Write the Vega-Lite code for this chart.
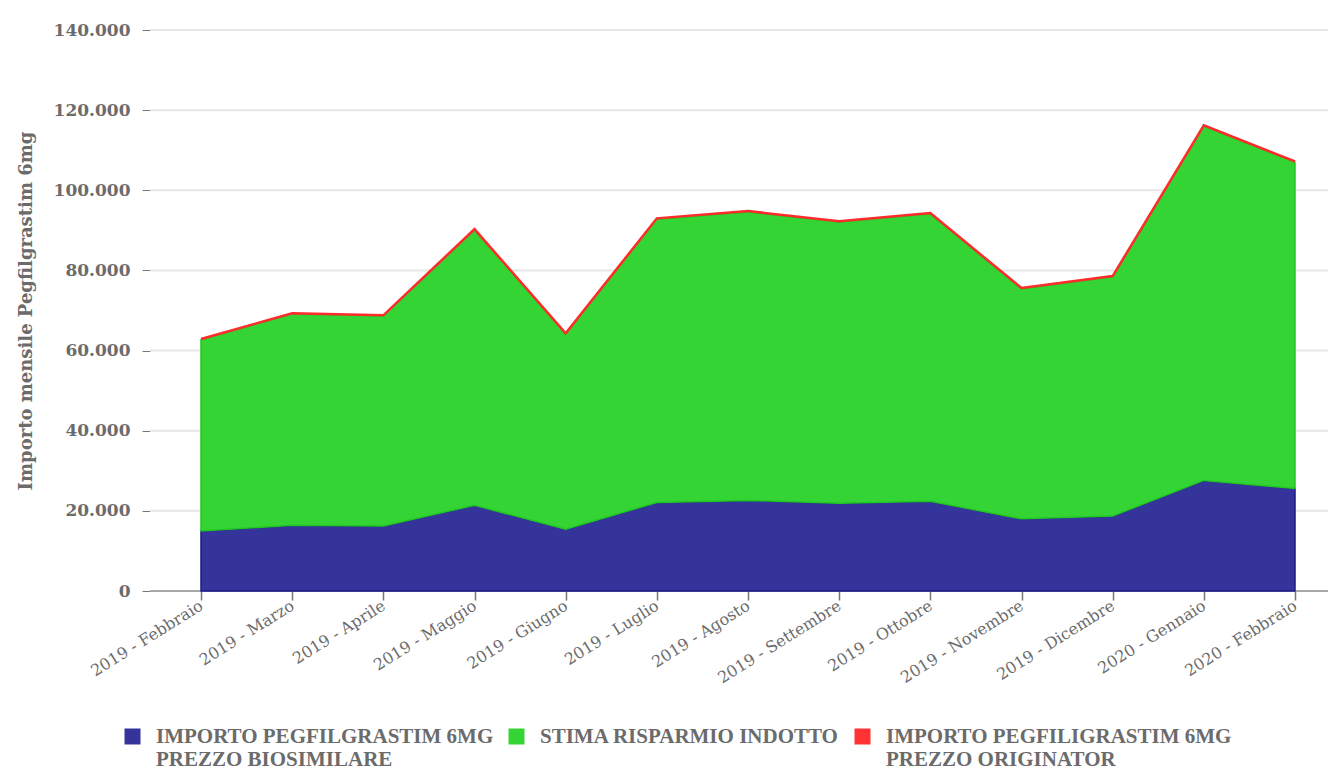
{
  "$schema": "https://vega.github.io/schema/vega-lite/v6.json",
  "width": 1178,
  "height": 561,
  "autosize": "none",
  "padding": {"left": 150, "top": 30, "right": 0, "bottom": 179},
  "background": "white",
  "config": {
    "view": {"stroke": null},
    "axis": {
      "labelFont": "DejaVu Serif",
      "labelFontWeight": "bold",
      "labelColor": "#6b6b6b",
      "titleFont": "DejaVu Serif",
      "titleFontWeight": "bold",
      "titleColor": "#6b6b6b"
    },
    "legend": {
      "labelFont": "Liberation Serif",
      "labelFontWeight": "bold",
      "labelColor": "#6b6b6b",
      "labelFontSize": 21
    }
  },
  "datasets": {
    "importi": [
      {"mese": "2019 - Febbraio", "serie": "IMPORTO PEGFILIGRASTIM 6MG PREZZO ORIGINATOR", "valore": 62900, "ord": 3},
      {"mese": "2019 - Marzo", "serie": "IMPORTO PEGFILIGRASTIM 6MG PREZZO ORIGINATOR", "valore": 69300, "ord": 3},
      {"mese": "2019 - Aprile", "serie": "IMPORTO PEGFILIGRASTIM 6MG PREZZO ORIGINATOR", "valore": 68800, "ord": 3},
      {"mese": "2019 - Maggio", "serie": "IMPORTO PEGFILIGRASTIM 6MG PREZZO ORIGINATOR", "valore": 90300, "ord": 3},
      {"mese": "2019 - Giugno", "serie": "IMPORTO PEGFILIGRASTIM 6MG PREZZO ORIGINATOR", "valore": 64300, "ord": 3},
      {"mese": "2019 - Luglio", "serie": "IMPORTO PEGFILIGRASTIM 6MG PREZZO ORIGINATOR", "valore": 93000, "ord": 3},
      {"mese": "2019 - Agosto", "serie": "IMPORTO PEGFILIGRASTIM 6MG PREZZO ORIGINATOR", "valore": 94800, "ord": 3},
      {"mese": "2019 - Settembre", "serie": "IMPORTO PEGFILIGRASTIM 6MG PREZZO ORIGINATOR", "valore": 92300, "ord": 3},
      {"mese": "2019 - Ottobre", "serie": "IMPORTO PEGFILIGRASTIM 6MG PREZZO ORIGINATOR", "valore": 94300, "ord": 3},
      {"mese": "2019 - Novembre", "serie": "IMPORTO PEGFILIGRASTIM 6MG PREZZO ORIGINATOR", "valore": 75600, "ord": 3},
      {"mese": "2019 - Dicembre", "serie": "IMPORTO PEGFILIGRASTIM 6MG PREZZO ORIGINATOR", "valore": 78600, "ord": 3},
      {"mese": "2020 - Gennaio", "serie": "IMPORTO PEGFILIGRASTIM 6MG PREZZO ORIGINATOR", "valore": 116200, "ord": 3},
      {"mese": "2020 - Febbraio", "serie": "IMPORTO PEGFILIGRASTIM 6MG PREZZO ORIGINATOR", "valore": 107200, "ord": 3},
      {"mese": "2019 - Febbraio", "serie": "IMPORTO PEGFILGRASTIM 6MG PREZZO BIOSIMILARE", "valore": 15000, "ord": 1},
      {"mese": "2019 - Marzo", "serie": "IMPORTO PEGFILGRASTIM 6MG PREZZO BIOSIMILARE", "valore": 16400, "ord": 1},
      {"mese": "2019 - Aprile", "serie": "IMPORTO PEGFILGRASTIM 6MG PREZZO BIOSIMILARE", "valore": 16200, "ord": 1},
      {"mese": "2019 - Maggio", "serie": "IMPORTO PEGFILGRASTIM 6MG PREZZO BIOSIMILARE", "valore": 21400, "ord": 1},
      {"mese": "2019 - Giugno", "serie": "IMPORTO PEGFILGRASTIM 6MG PREZZO BIOSIMILARE", "valore": 15400, "ord": 1},
      {"mese": "2019 - Luglio", "serie": "IMPORTO PEGFILGRASTIM 6MG PREZZO BIOSIMILARE", "valore": 22100, "ord": 1},
      {"mese": "2019 - Agosto", "serie": "IMPORTO PEGFILGRASTIM 6MG PREZZO BIOSIMILARE", "valore": 22600, "ord": 1},
      {"mese": "2019 - Settembre", "serie": "IMPORTO PEGFILGRASTIM 6MG PREZZO BIOSIMILARE", "valore": 21900, "ord": 1},
      {"mese": "2019 - Ottobre", "serie": "IMPORTO PEGFILGRASTIM 6MG PREZZO BIOSIMILARE", "valore": 22400, "ord": 1},
      {"mese": "2019 - Novembre", "serie": "IMPORTO PEGFILGRASTIM 6MG PREZZO BIOSIMILARE", "valore": 18000, "ord": 1},
      {"mese": "2019 - Dicembre", "serie": "IMPORTO PEGFILGRASTIM 6MG PREZZO BIOSIMILARE", "valore": 18700, "ord": 1},
      {"mese": "2020 - Gennaio", "serie": "IMPORTO PEGFILGRASTIM 6MG PREZZO BIOSIMILARE", "valore": 27600, "ord": 1},
      {"mese": "2020 - Febbraio", "serie": "IMPORTO PEGFILGRASTIM 6MG PREZZO BIOSIMILARE", "valore": 25600, "ord": 1},
      {"mese": "2019 - Febbraio", "serie": "STIMA RISPARMIO INDOTTO", "valore": 47700, "ord": 2},
      {"mese": "2019 - Marzo", "serie": "STIMA RISPARMIO INDOTTO", "valore": 52700, "ord": 2},
      {"mese": "2019 - Aprile", "serie": "STIMA RISPARMIO INDOTTO", "valore": 52400, "ord": 2},
      {"mese": "2019 - Maggio", "serie": "STIMA RISPARMIO INDOTTO", "valore": 68700, "ord": 2},
      {"mese": "2019 - Giugno", "serie": "STIMA RISPARMIO INDOTTO", "valore": 48700, "ord": 2},
      {"mese": "2019 - Luglio", "serie": "STIMA RISPARMIO INDOTTO", "valore": 70700, "ord": 2},
      {"mese": "2019 - Agosto", "serie": "STIMA RISPARMIO INDOTTO", "valore": 72000, "ord": 2},
      {"mese": "2019 - Settembre", "serie": "STIMA RISPARMIO INDOTTO", "valore": 70200, "ord": 2},
      {"mese": "2019 - Ottobre", "serie": "STIMA RISPARMIO INDOTTO", "valore": 71700, "ord": 2},
      {"mese": "2019 - Novembre", "serie": "STIMA RISPARMIO INDOTTO", "valore": 57400, "ord": 2},
      {"mese": "2019 - Dicembre", "serie": "STIMA RISPARMIO INDOTTO", "valore": 59700, "ord": 2},
      {"mese": "2020 - Gennaio", "serie": "STIMA RISPARMIO INDOTTO", "valore": 88400, "ord": 2},
      {"mese": "2020 - Febbraio", "serie": "STIMA RISPARMIO INDOTTO", "valore": 81400, "ord": 2}
    ],
    "griglia": [
      {"g": 20000}, {"g": 40000}, {"g": 60000}, {"g": 80000}, {"g": 100000}, {"g": 120000}, {"g": 140000}
    ],
    "base": [{"g": 0}]
  },
  "layer": [
    {
      "data": {"name": "griglia"},
      "mark": {"type": "rule", "color": "#e6e6e6", "strokeWidth": 2},
      "encoding": {
        "y": {
          "field": "g",
          "type": "quantitative",
          "scale": {"domain": [0, 140000]},
          "axis": {
            "title": "Importo mensile Pegfilgrastim 6mg",
            "titleFontSize": 18,
            "titlePadding": 18,
            "values": [0, 20000, 40000, 60000, 80000, 100000, 120000, 140000],
            "labelExpr": "replace(format(datum.value, ','), ',', '.')",
            "labelFontSize": 17,
            "labelPadding": 12,
            "tickSize": 8,
            "tickColor": "#777777",
            "domain": false,
            "grid": false
          }
        }
      }
    },
    {
      "data": {"name": "base"},
      "mark": {"type": "rule", "color": "#a8a8a8", "strokeWidth": 2},
      "encoding": {
        "y": {"field": "g", "type": "quantitative"}
      }
    },
    {
      "data": {"name": "importi"},
      "transform": [{"filter": "datum.ord == 3"}],
      "mark": {"type": "area", "strokeWidth": 0, "opacity": 1},
      "encoding": {
        "x": {
          "field": "mese",
          "type": "ordinal",
          "sort": null,
          "scale": {"type": "point", "range": [51, 1145], "padding": 0},
          "axis": {
            "title": null,
            "labelAngle": -32,
            "labelAlign": "right",
            "labelBaseline": "middle",
            "labelFont": "DejaVu Serif",
            "labelFontWeight": "normal",
            "labelFontSize": 16,
            "labelPadding": 4,
            "tickSize": 9,
            "tickWidth": 1.5,
            "tickColor": "#777777",
            "domain": false,
            "grid": false
          }
        },
        "y": {"field": "valore", "type": "quantitative", "stack": null},
        "color": {
          "field": "serie",
          "type": "nominal",
          "scale": {
            "domain": ["IMPORTO PEGFILGRASTIM 6MG PREZZO BIOSIMILARE", "STIMA RISPARMIO INDOTTO", "IMPORTO PEGFILIGRASTIM 6MG PREZZO ORIGINATOR"],
            "range": ["#34349a", "#34d434", "#ff3333"]
          },
          "legend": {
            "title": null,
            "orient": "none",
            "legendX": -28,
            "legendY": 696,
            "direction": "horizontal",
            "columns": 3,
            "gridAlign": "none",
            "columnPadding": 12,
            "symbolType": "square",
            "symbolSize": 256,
            "symbolStrokeWidth": 0,
            "symbolOpacity": 1,
            "labelLimit": 450,
            "labelOffset": 13,
            "labelExpr": "indexof(datum.label, ' PREZZO') > 0 ? [slice(datum.label, 0, indexof(datum.label, ' PREZZO')), slice(datum.label, indexof(datum.label, ' PREZZO') + 1)] : datum.label"
          }
        }
      }
    },
    {
      "data": {"name": "importi"},
      "transform": [{"filter": "datum.ord < 3"}],
      "mark": {"type": "area", "strokeWidth": 1.5, "opacity": 1},
      "encoding": {
        "x": {"field": "mese", "type": "ordinal", "sort": null},
        "y": {"field": "valore", "type": "quantitative", "stack": "zero"},
        "order": {"field": "ord", "type": "quantitative"},
        "color": {"field": "serie", "type": "nominal"},
        "stroke": {
          "field": "serie",
          "type": "nominal",
          "scale": {
            "domain": ["IMPORTO PEGFILGRASTIM 6MG PREZZO BIOSIMILARE", "STIMA RISPARMIO INDOTTO", "IMPORTO PEGFILIGRASTIM 6MG PREZZO ORIGINATOR"],
            "range": ["#1a1a8c", "#22c822", "#ff2a2a"]
          },
          "legend": null
        }
      }
    },
    {
      "data": {"name": "importi"},
      "transform": [{"filter": "datum.ord == 3"}],
      "mark": {"type": "line", "color": "#ff2a2a", "strokeWidth": 2.5},
      "encoding": {
        "x": {"field": "mese", "type": "ordinal", "sort": null},
        "y": {"field": "valore", "type": "quantitative"}
      }
    }
  ]
}
